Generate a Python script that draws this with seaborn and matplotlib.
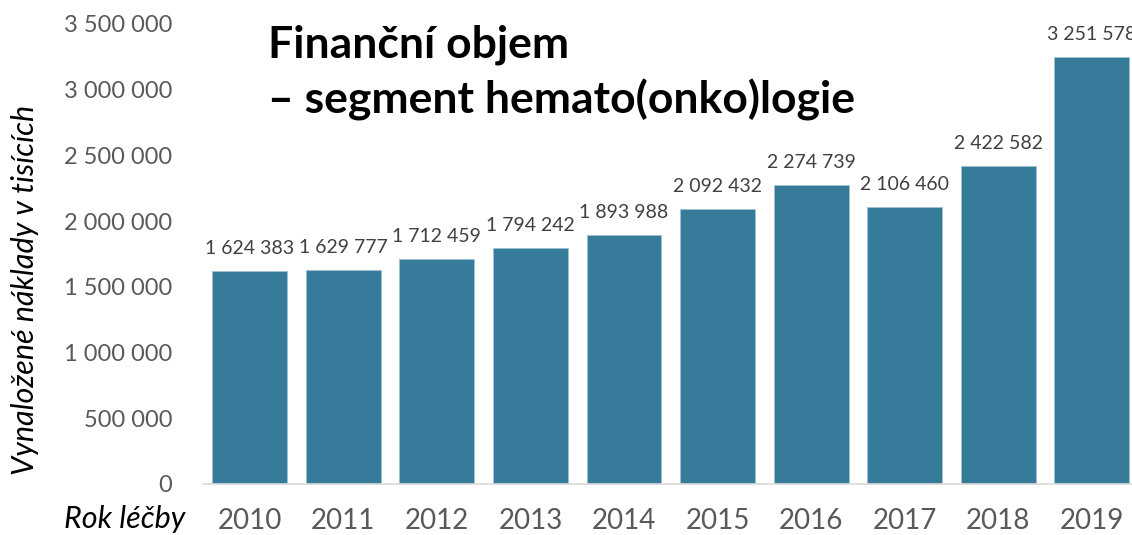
import matplotlib
matplotlib.use("Agg")
import matplotlib.pyplot as plt
import seaborn as sns
import pandas as pd

years = ["2010", "2011", "2012", "2013", "2014", "2015", "2016", "2017", "2018", "2019"]
values = [1624383, 1629777, 1712459, 1794242, 1893988, 2092432, 2274739, 2106460, 2422582, 3251578]
yticks = [0, 500000, 1000000, 1500000, 2000000, 2500000, 3000000, 3500000]

sns.set_theme(style="white")
plt.rcParams['font.family'] = ['Lato', 'DejaVu Sans']

def fmt(v):
    return f"{v:,}".replace(",", " ")

df = pd.DataFrame({"year": years, "value": values})

fig = plt.figure(figsize=(11.32, 5.35), dpi=100)
ax = fig.add_axes([203/1132, 1 - 484/535, (1132 - 203)/1132, (484 - 24)/535])

sns.barplot(data=df, x="year", y="value", color="#377B9B", saturation=1, width=0.8,
            edgecolor="#9FC3D6", linewidth=0.6, ax=ax)

ax.set_ylim(0, 3500000)
ax.set_xlim(-0.5, 9.43)
ax.set_yticks(yticks)
ax.set_yticklabels([fmt(v) for v in yticks], fontsize=17, color="#595959")
ax.tick_params(axis="x", labelsize=20, labelcolor="#595959", pad=17, length=0)
ax.tick_params(axis="y", pad=22, length=0)
ax.set_xlabel("")
ax.set_ylabel("")
for s in ["top", "right", "left"]:
    ax.spines[s].set_visible(False)
ax.spines["bottom"].set_color("#D9D9D9")
ax.spines["bottom"].set_linewidth(1.2)

for i, v in enumerate(values):
    ax.annotate(fmt(v), (i, v), xytext=(0, 10), textcoords="offset points",
                ha="center", va="bottom", fontsize=14, color="#404040", clip_on=False)

fig.text(268/1132, 1 - 45/535, "Finanční objem", fontsize=32, fontweight="bold",
         color="black", va="center", ha="left")
fig.text(268/1132, 1 - 100/535, "– segment hemato(onko)logie", fontsize=32, fontweight="bold",
         color="black", va="center", ha="left")

fig.text(25/1132, 1 - 290/535, "Vynaložené náklady v tisících", rotation=90, fontsize=22,
         style="italic", color="black", ha="center", va="center")
fig.text(125/1132, 1 - 519/535, "Rok léčby", fontsize=22, style="italic", color="black",
         ha="center", va="center")

fig.savefig("out.png", dpi=100)
